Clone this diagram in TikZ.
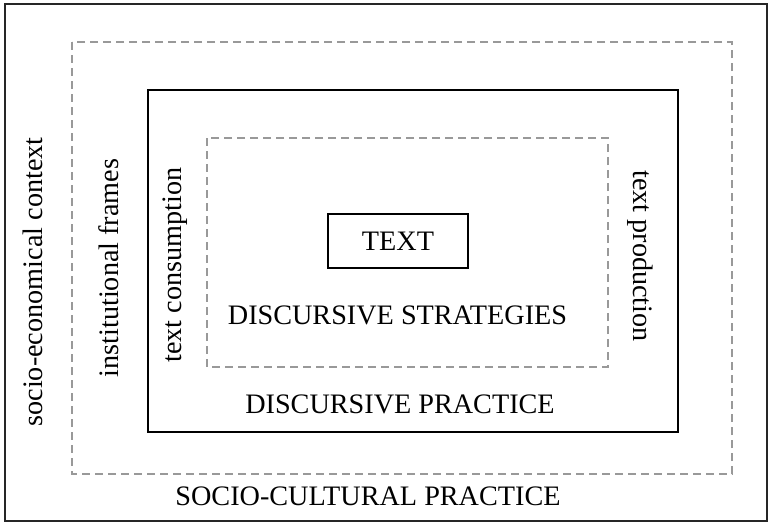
\documentclass[tikz,border=0pt]{standalone}
\usepackage{fontspec}
\setmainfont{Liberation Serif}
\usepackage{xcolor}
\definecolor{framegray}{HTML}{999999}

\tikzset{
  solidbox/.style={draw=black, line width=1.8pt},
  dashbox/.style={draw=framegray, line width=1.2pt, dash pattern=on 8pt off 5pt},
  lbl/.style={inner sep=0pt, font=\fontsize{28.2}{33}\selectfont}
}

\begin{document}
\begin{tikzpicture}[x=1pt,y=-1pt]
\useasboundingbox (0,0) rectangle (771,522);
% nested frames, outside in
\draw [line width=1.5pt, color=black!85] (5,4) rectangle (767,521);
\draw [dashbox] (72,42) rectangle (732,474);
\draw [solidbox] (148,90) rectangle (678,432);
\draw [dashbox] (207,138) rectangle (608,367);
\node [solidbox, lbl, minimum width=140pt, minimum height=54pt] (text) at (398,241) {TEXT};

% labels of the levels
\node [lbl, anchor=base] (strategies) at (397.5,324) {DISCURSIVE STRATEGIES};
\node [lbl, anchor=base] (practice) at (400,413) {DISCURSIVE PRACTICE};
\node [lbl, anchor=base] (sociocult) at (368,505) {SOCIO-CULTURAL PRACTICE};

\node [lbl, rotate=90, anchor=base] (context) at (42,282) {socio-economical context};
\node [lbl, rotate=90, anchor=base] (frames) at (118,268) {institutional frames};
\node [lbl, rotate=90, anchor=base] (consumption) at (181,265) {text consumption};
\node [lbl, rotate=-90, anchor=base] (production) at (633,256) {text production};
\end{tikzpicture}
\end{document}
